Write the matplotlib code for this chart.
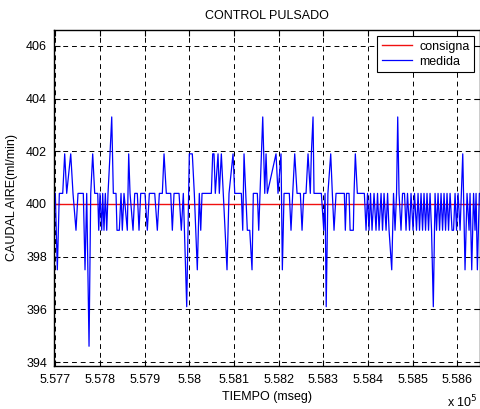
import numpy as np
import matplotlib
matplotlib.use('Agg')
import matplotlib.pyplot as plt

plt.rcParams['font.family'] = ['Liberation Sans', 'DejaVu Sans']

t0 = 557700
# tiempo (ms, desde t0) y caudal medido (ml/min)
t_medida = [0, 4.5, 9, 16.6, 21, 25.5, 34.5, 39.6, 46.3, 50.8,
            62.7, 66.5, 70.3, 75.5, 79.3, 83.7, 88.2, 95, 97.2, 100.1,
            103.9, 106.1, 109, 112, 115.1, 118, 122.5, 126.3, 129.9, 135.9,
            138.1, 143.3, 147.1, 150, 153.8, 161.2, 164.3, 167.3, 174, 177.8,
            183.6, 187.4, 191.2, 200.8, 206, 210.5, 222.6, 228.4, 232.9, 239.6,
            243.4, 248.5, 258.4, 262, 265.8, 277, 282.1, 286.6, 294.2, 300,
            306.7, 311.2, 317.9, 322.4, 325.6, 328.5, 349.3, 352.4, 355.3, 358.2,
            364.3, 367.2, 371.7, 384.4, 388.9, 397.9, 401.7, 416.5, 419.6, 422.5,
            429.9, 435.3, 440.4, 443.3, 452.3, 455.4, 458.3, 464.4, 468.9, 471.8,
            474.7, 494.1, 498.6, 505.3, 508.3, 512.1, 523.9, 527.7, 531.5, 536,
            541.2, 548.6, 552.4, 556.2, 561.3, 565.8, 570.9, 573.2, 577, 579.2,
            595.6, 601, 603.9, 606.5, 610.3, 616.6, 620.2, 624, 628.5, 647.1,
            649.3, 652, 657.6, 660, 667.2, 668.8, 671.7, 676.2, 691.9, 695.7,
            699, 702.4, 705.7, 709.1, 713.6, 718, 721.4, 724.8, 729.3, 732.6,
            736, 740.5, 743.9, 747.2, 753.2, 757.2, 760.6, 764, 766.6, 769.5,
            774, 777.4, 781.8, 785.2, 788.5, 793, 796.4, 800.9, 804.2, 808.7,
            812.1, 815.4, 818.8, 822.2, 825.5, 828.9, 832.2, 835.6, 839, 842.3,
            846.3, 850.2, 853.5, 856.9, 860.3, 863.6, 867, 870.3, 873.7, 877,
            880.4, 883.8, 888.2, 891.6, 895, 898.3, 901.7, 906.2, 912.2, 917.3,
            921.8, 926.3, 928.5, 932.3, 936.4, 939.7, 942, 944.9, 949.4, 953]
medida = [400.4, 397.5, 400.4, 400.4, 401.9, 400.4, 401.9, 400.4, 399.0, 400.4,
          400.4, 397.5, 400.4, 394.6, 400.4, 401.9, 400.4, 400.4, 399.0, 400.4,
          399.0, 400.4, 399.0, 400.4, 399.0, 400.4, 401.9, 403.3, 400.4, 400.4,
          399.0, 399.0, 400.4, 399.0, 400.4, 399.0, 401.9, 400.4, 399.0, 400.4,
          400.4, 399.0, 400.4, 400.4, 399.0, 400.4, 400.4, 399.0, 400.4, 400.4,
          401.9, 400.4, 400.4, 399.0, 400.4, 400.4, 399.0, 400.4, 396.1, 401.9,
          401.9, 400.4, 397.5, 400.4, 399.0, 400.4, 400.4, 401.9, 401.9, 400.4,
          401.9, 400.4, 401.9, 397.5, 400.4, 401.9, 400.4, 400.4, 399.0, 401.9,
          399.0, 399.0, 397.5, 400.4, 400.4, 399.0, 400.4, 403.3, 400.4, 401.9,
          400.4, 401.9, 400.4, 401.9, 397.5, 400.4, 400.4, 399.0, 400.4, 401.9,
          400.4, 400.4, 399.0, 400.4, 400.4, 401.9, 400.4, 401.9, 403.3, 400.4,
          400.4, 399.0, 400.4, 396.1, 400.4, 401.9, 400.4, 399.0, 400.4, 400.4,
          399.0, 400.4, 400.4, 399.0, 399.0, 400.4, 401.9, 400.4, 400.4, 399.0,
          400.4, 399.0, 400.4, 399.0, 400.4, 399.0, 400.4, 399.0, 400.4, 399.0,
          400.4, 399.0, 400.4, 399.0, 397.5, 400.4, 399.0, 400.4, 403.3, 400.4,
          399.0, 400.4, 400.4, 399.0, 400.4, 399.0, 400.4, 399.0, 400.4, 399.0,
          400.4, 399.0, 400.4, 399.0, 400.4, 399.0, 400.4, 399.0, 400.4, 399.0,
          396.1, 400.4, 399.0, 400.4, 399.0, 400.4, 399.0, 400.4, 399.0, 400.4,
          399.0, 400.4, 399.0, 399.0, 400.4, 399.0, 400.4, 399.0, 401.9, 397.5,
          400.4, 399.0, 400.4, 397.5, 400.4, 399.0, 400.4, 397.5, 400.4, 400.4]
t_consigna = [-3, 953]
consigna = [400, 400]

x_ticks = [5.577, 5.578, 5.579, 5.58, 5.581, 5.582, 5.583, 5.584, 5.585, 5.586]
y_ticks = [394, 396, 398, 400, 402, 404, 406]

fig = plt.figure(figsize=(4.81, 4.09), dpi=100)
ax = fig.add_axes([0.1123, 0.1051, 0.8857, 0.8216])

tm = (t0 + np.array(t_medida)) / 1e5
tc = (t0 + np.array(t_consigna)) / 1e5
ax.plot(tc, consigna, color='#f01010', lw=1.0, label='consigna')
ax.plot(tm, medida, color='#0000ff', lw=0.9, label='medida')

ax.set_xlim((t0 - 2.9) / 1e5, (t0 + 950.9) / 1e5)
ax.set_ylim(393.85, 406.6)
ax.set_xticks(x_ticks)
ax.set_xticklabels(['%g' % v for v in x_ticks])
ax.set_yticks(y_ticks)
ax.tick_params(direction='in', top=True, right=True, labelsize=9, length=4, width=0.8)
ax.tick_params(axis='x', pad=6)
ax.tick_params(axis='y', pad=5)
ax.grid(True, color='k', linestyle=(0, (5, 4)), linewidth=0.7)
for s in ax.spines.values():
    s.set_linewidth(1.0)

ax.set_title('CONTROL PULSADO', fontsize=9, pad=8)
ax.set_xlabel('TIEMPO (mseg)', fontsize=9, labelpad=3)
ax.set_ylabel('CAUDAL AIRE(ml/min)', fontsize=9, labelpad=6)
fig.text(0.929, 0.017, 'x 10$^5$', fontsize=9, va='center')

leg = ax.legend(loc='upper right', fontsize=9, fancybox=False, framealpha=1,
                edgecolor='k', borderaxespad=0.5, handlelength=2.4,
                handletextpad=0.6, borderpad=0.35, labelspacing=0.25)
leg.get_frame().set_linewidth(0.8)

fig.savefig('out.png', dpi=100)
